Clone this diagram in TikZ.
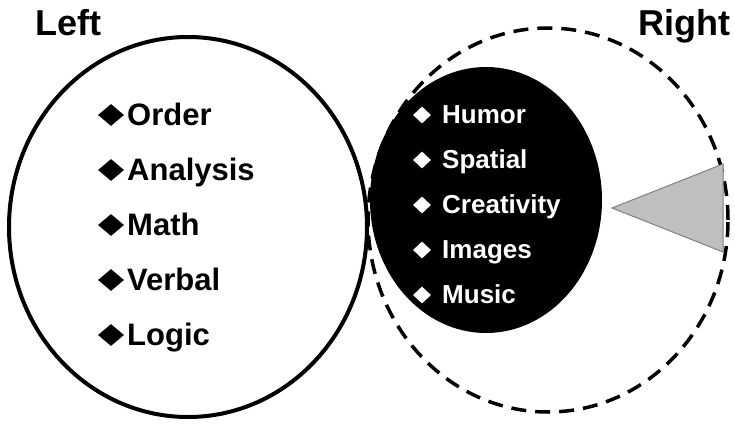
\documentclass[tikz,border=0pt]{standalone}
\usepackage{fontspec}
\setmainfont{Liberation Sans}
\usetikzlibrary{shapes.geometric}
\begin{document}
\begin{tikzpicture}[x=1pt,y=-1pt,
  title/.style={font=\fontsize{36}{40}\selectfont\bfseries, anchor=base west, inner sep=0},
  lefttext/.style={font=\fontsize{31}{35}\selectfont\bfseries, anchor=base west, inner sep=0},
  righttext/.style={font=\fontsize{26}{30}\selectfont\bfseries, anchor=base west, inner sep=0, text=white},
  leftbullet/.style={diamond, fill=black, inner sep=0, minimum width=26pt, minimum height=22pt},
  rightbullet/.style={diamond, fill=white, inner sep=0, minimum width=18pt, minimum height=17pt},
  hemi/.style={line width=4pt},
  dashring/.style={line width=3.5pt, dash pattern=on 15pt off 9pt},
  pointer/.style={fill=black!25, draw=black!50, line width=1pt}]
\useasboundingbox (0,0) rectangle (735,425);

% right hemisphere outline
\draw[dashring] (548,220) ellipse [x radius=180pt, y radius=192pt];
% right-brain content region
\fill (486,200) ellipse [x radius=116pt, y radius=133pt];
% left hemisphere
\draw[hemi] (188,227) ellipse [x radius=179pt, y radius=190pt];

% pointer
\coordinate (tip) at (612,208);
\coordinate (top) at (723,164);
\coordinate (bot) at (723,252);
\filldraw[pointer] (tip) -- (top) -- (bot) -- cycle;

% titles
\node[title] (lt) at (35,36) {Left};
\node[title] (rt) at (638,36) {Right};

% left hemisphere functions
\foreach \t [count=\i] in {Order,Analysis,Math,Verbal,Logic}{
  \node[leftbullet] (lb\i) at (111,{115+55*(\i-1)}) {};
  \node[lefttext] (lw\i) at (127,{125+55*(\i-1)}) {\t};
}

% right hemisphere functions
\foreach \t [count=\i] in {Humor,Spatial,Creativity,Images,Music}{
  \node[rightbullet] (rb\i) at (422,{115+45*(\i-1)}) {};
  \node[righttext] (rw\i) at (442,{123+45*(\i-1)}) {\t};
}
\end{tikzpicture}
\end{document}
